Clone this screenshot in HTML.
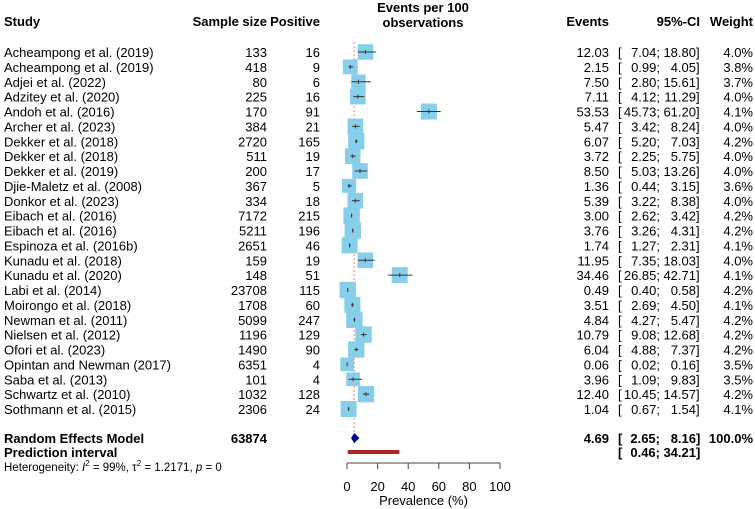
<!DOCTYPE html>
<html><head><meta charset="utf-8"><style>
body{margin:0;background:#fff}
svg{display:block;font-family:"Liberation Sans",Arial,sans-serif;font-size:13px}
.b{font-weight:bold}
</style></head><body>
<svg id="c" width="755" height="509" viewBox="0 0 755 509">
<g class="b">
<text x="4" y="26">Study</text>
<text x="267" y="26" text-anchor="end">Sample size</text>
<text x="320" y="26" text-anchor="end">Positive</text>
<text x="423" y="12" text-anchor="middle">Events per 100</text>
<text x="423" y="27" text-anchor="middle">observations</text>
<text x="609" y="26" text-anchor="end">Events</text>
<text x="700" y="26" text-anchor="end">95%-CI</text>
<text x="753" y="26" text-anchor="end">Weight</text>
</g>
<g id="rows"></g>
<g id="plot"></g>
<g>
<text x="4" y="443" class="b">Random Effects Model</text>
<text x="267" y="443" class="b" text-anchor="end">63874</text>
<text x="4" y="457" class="b">Prediction interval</text>
<text x="4" y="471" font-size="11.5">Heterogeneity: <tspan font-style="italic">I</tspan><tspan dy="-5" font-size="8">2</tspan><tspan dy="5"> = 99%, τ</tspan><tspan dy="-5" font-size="8">2</tspan><tspan dy="5"> = 1.2171, </tspan><tspan font-style="italic">p</tspan> = 0</text>
</g>
</svg>
<script>
const studies=["Acheampong et al. (2019)","Acheampong et al. (2019)","Adjei et al. (2022)","Adzitey et al. (2020)","Andoh et al. (2016)","Archer et al. (2023)","Dekker et al. (2018)","Dekker et al. (2018)","Dekker et al. (2019)","Djie-Maletz et al. (2008)","Donkor et al. (2023)","Eibach et al. (2016)","Eibach et al. (2016)","Espinoza et al. (2016b)","Kunadu et al. (2018)","Kunadu et al. (2020)","Labi et al. (2014)","Moirongo et al. (2018)","Newman et al. (2011)","Nielsen et al. (2012)","Ofori et al. (2023)","Opintan and Newman (2017)","Saba et al. (2013)","Schwartz et al. (2010)","Sothmann et al. (2015)"];
const sampleSize=[133,418,80,225,170,384,2720,511,200,367,334,7172,5211,2651,159,148,23708,1708,5099,1196,1490,6351,101,1032,2306];
const positive=[16,9,6,16,91,21,165,19,17,5,18,215,196,46,19,51,115,60,247,129,90,4,4,128,24];
const events=[12.03,2.15,7.50,7.11,53.53,5.47,6.07,3.72,8.50,1.36,5.39,3.00,3.76,1.74,11.95,34.46,0.49,3.51,4.84,10.79,6.04,0.06,3.96,12.40,1.04];
const ciLow=[7.04,0.99,2.80,4.12,45.73,3.42,5.20,2.25,5.03,0.44,3.22,2.62,3.26,1.27,7.35,26.85,0.40,2.69,4.27,9.08,4.88,0.02,1.09,10.45,0.67];
const ciHigh=[18.80,4.05,15.61,11.29,61.20,8.24,7.03,5.75,13.26,3.15,8.38,3.42,4.31,2.31,18.03,42.71,0.58,4.50,5.47,12.68,7.37,0.16,9.83,14.57,1.54];
const weights=[4.0,3.8,3.7,4.0,4.1,4.0,4.2,4.0,4.0,3.6,4.0,4.2,4.2,4.1,4.0,4.1,4.2,4.1,4.2,4.2,4.2,3.5,3.5,4.2,4.1];
const pooled=[4.69,2.65,8.16];
const predInt=[0.46,34.21];
const ticks=[0,20,40,60,80,100];
const NS="http://www.w3.org/2000/svg";
const X=v=>347+v*1.53;
const Y=i=>52+i*14.875;
function mk(p,t,a,txt){const e=document.createElementNS(NS,t);for(const k in a)e.setAttribute(k,a[k]);if(txt!==undefined)e.textContent=txt;p.appendChild(e);return e;}
const rows=document.getElementById('rows'),plot=document.getElementById('plot');
const f=v=>v.toFixed(2);
function ci(g,y,lo,hi){
  mk(g,'text',{x:618,y:y},'[');
  mk(g,'text',{x:660,y:y,'text-anchor':'end'},f(lo)+';');
  mk(g,'text',{x:696,y:y,'text-anchor':'end'},f(hi));
  mk(g,'text',{x:696,y:y},']');
}
let rl=mk(plot,'line',{x1:X(pooled[0]),x2:X(pooled[0]),y1:42,y2:445,stroke:'#f08080','stroke-dasharray':'2,2','stroke-width':1});


studies.forEach((s,i)=>{
  const y=Y(i);
  const g=mk(rows,'g',{});
  
  
  mk(g,'text',{x:4,y:y+5},s);
  mk(g,'text',{x:267,y:y+5,'text-anchor':'end'},sampleSize[i]);
  mk(g,'text',{x:320,y:y+5,'text-anchor':'end'},positive[i]);
  mk(g,'text',{x:609,y:y+5,'text-anchor':'end'},f(events[i]));
  ci(g,y+5,ciLow[i],ciHigh[i]);
  mk(g,'text',{x:753,y:y+5,'text-anchor':'end'},weights[i].toFixed(1)+'%');
  const sz=weights[i]*3.9;
  const b=mk(plot,'rect',{x:X(events[i])-sz/2,y:y-sz/2,width:sz,height:sz,fill:'#87ceeb'});
  
  
  const l=mk(plot,'line',{x1:X(ciLow[i]),x2:X(ciHigh[i]),y1:y,y2:y,stroke:'#333','stroke-width':1});
  
  
  mk(plot,'line',{x1:X(events[i]),x2:X(events[i]),y1:y-2,y2:y+2,stroke:'#333','stroke-width':1});
});
const yd=438;
const d=mk(plot,'polygon',{points:`${X(pooled[1])},${yd} ${X(pooled[0])},${yd-5} ${X(pooled[2])},${yd} ${X(pooled[0])},${yd+5}`,fill:'#00008b'});


const pr=mk(plot,'rect',{x:X(predInt[0]),y:450,width:X(predInt[1])-X(predInt[0]),height:4,fill:'#b22222'});


const sg=mk(rows,'g',{class:'b'});


mk(sg,'text',{x:609,y:yd+5,'text-anchor':'end'},f(pooled[0]));
ci(sg,yd+5,pooled[1],pooled[2]);
mk(sg,'text',{x:753,y:yd+5,'text-anchor':'end'},'100.0%');
ci(sg,457,predInt[0],predInt[1]);
const ax=mk(plot,'g',{});


mk(ax,'line',{x1:X(ticks[0]),x2:X(ticks[ticks.length-1]),y1:463,y2:463,stroke:'#444'});
ticks.forEach(t=>{
  mk(ax,'line',{x1:X(t),x2:X(t),y1:463,y2:469,stroke:'#444'});
  const tl=mk(ax,'text',{x:X(t),y:491,'text-anchor':'middle'},t);
  
  
});
const at=mk(ax,'text',{x:X(50),y:505,'text-anchor':'middle'},'Prevalence (%)');


</script>
</body></html>
